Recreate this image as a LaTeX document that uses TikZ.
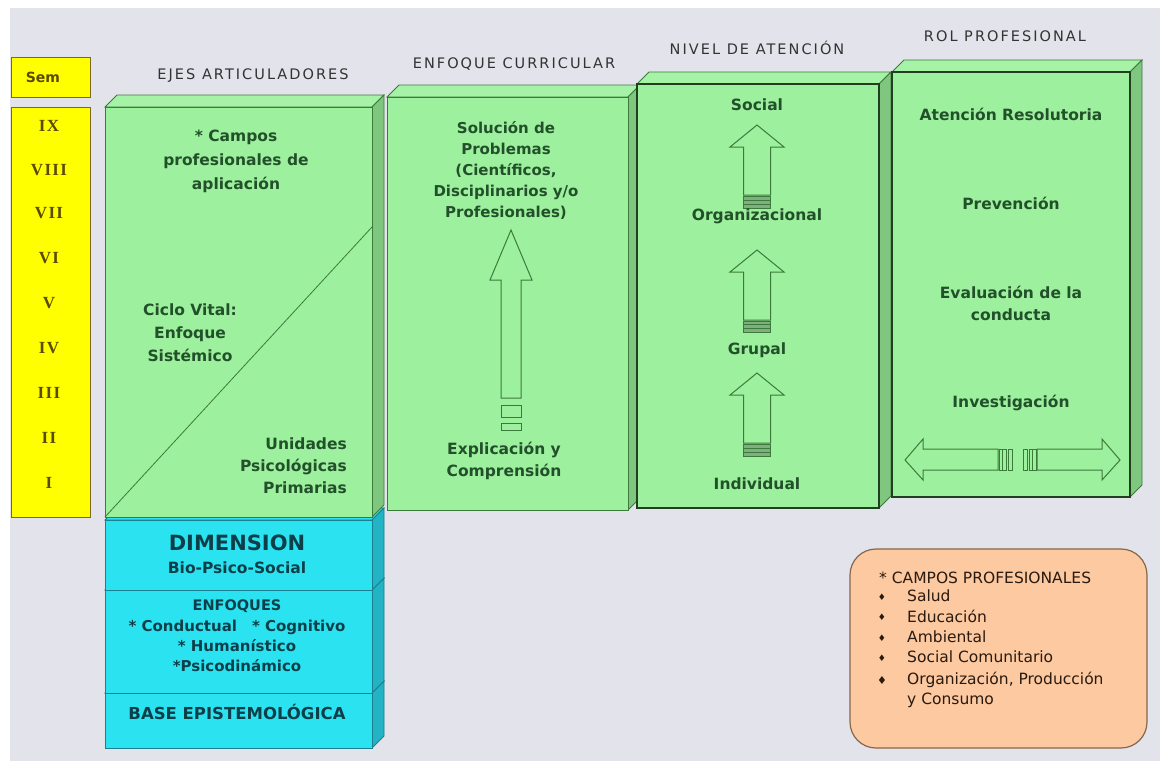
\documentclass[tikz,border=0pt]{standalone}
\usepackage{fontspec}
\setmainfont{DejaVu Sans}
\newfontfamily\titlefont[LetterSpace=14]{DejaVu Sans}
\newfontfamily\romfont[LetterSpace=8]{Liberation Serif}
\usetikzlibrary{calc}
\definecolor{bggray}{HTML}{E3E3EB}
\definecolor{gfront}{HTML}{9DF09D}
\definecolor{gtop}{HTML}{A6F2A6}
\definecolor{gside}{HTML}{7FC77F}
\definecolor{gborder}{HTML}{3C7A3C}
\definecolor{gdark}{HTML}{1F3F1F}
\definecolor{gtext}{HTML}{22502A}
\definecolor{cfront}{HTML}{2BE3F0}
\definecolor{cside}{HTML}{22B3C4}
\definecolor{cborder}{HTML}{1A7F8F}
\definecolor{ctext}{HTML}{0D3F4A}
\definecolor{yfill}{HTML}{FFFF00}
\definecolor{yborder}{HTML}{7A6A1A}
\definecolor{ytext}{HTML}{5A4A00}
\definecolor{ofill}{HTML}{FCC9A0}
\definecolor{oborder}{HTML}{8A6648}
\definecolor{otext}{HTML}{2A1A10}
\definecolor{ttext}{HTML}{333333}
\definecolor{barfill}{HTML}{7FAF7F}
\newcommand{\cubeshape}[7]{%
  \path[#7] (#1,#2) -- ++(12,-12) -- ($(#3,#2)+(12,-12)$) -- (#3,#2) -- cycle;
  \path[#6] (#3,#2) -- ++(12,-12) -- ($(#3,#4)+(12,-12)$) -- (#3,#4) -- cycle;
  \path[#5] (#1,#2) rectangle (#3,#4);
}
\newcommand{\hollowup}[6]{%
  \draw[arrowline] (#1,#2) -- ({#1+#5},#3) -- ({#1+#6},#3) -- ({#1+#6},#4) -- ({#1-#6},#4) -- ({#1-#6},#3) -- ({#1-#5},#3) -- cycle;
}
\newcommand{\stripebar}[4]{% cx halfwidth top bottom
  \draw[arrowline,fill=barfill] ({#1-#2},#3) rectangle ({#1+#2},#4);
  \draw[arrowline] ({#1-#2},{#3+(#4-#3)/3}) -- ({#1+#2},{#3+(#4-#3)/3});
  \draw[arrowline] ({#1-#2},{#3+2*(#4-#3)/3}) -- ({#1+#2},{#3+2*(#4-#3)/3});
}
\tikzset{
  gfrontst/.style={fill=gfront,draw=gborder,line width=1pt},
  gfrontdk/.style={fill=gfront,draw=gdark,line width=1.6pt},
  gsidest/.style={fill=gside,draw=gborder,line width=0.8pt},
  gtopst/.style={fill=gtop,draw=gborder,line width=0.8pt},
  cfrontst/.style={fill=cfront,draw=cborder,line width=1pt},
  csidest/.style={fill=cside,draw=cborder,line width=0.8pt},
  ctopst/.style={fill=cfront,draw=cborder,line width=0.8pt},
  arrowline/.style={draw=gborder,line width=1pt},
  gtxt/.style={text=gtext,font=\bfseries\fontsize{15.5}{22}\selectfont,align=center,inner sep=0pt},
  ttl/.style={text=ttext,font=\titlefont\fontsize{14.5}{16}\selectfont,inner sep=0pt},
  ctxt/.style={text=ctext,align=center,inner sep=0pt},
  rom/.style={text=ytext,font=\romfont\bfseries\fontsize{17}{18}\selectfont,inner sep=0pt},
  otxt/.style={text=otext,font=\fontsize{15.5}{20.5}\selectfont,anchor=west,inner sep=0pt},
  obul/.style={text=otext,font=\fontsize{9}{10}\selectfont,inner sep=0pt}
}
\begin{document}
\begin{tikzpicture}[x=1pt,y=-1pt]
\useasboundingbox (0,0) rectangle (1166,761);
\fill[white] (0,0) rectangle (1166,761);
\fill[bggray] (10,8) rectangle (1160,761);

% semester column
\draw[fill=yfill,draw=yborder,line width=1pt] (11,57) rectangle (90,97);
\node[text=ytext,font=\bfseries\fontsize{14}{16}\selectfont,inner sep=0pt] (sem) at (43,77) {Sem};
\draw[fill=yfill,draw=yborder,line width=1pt] (11,107) rectangle (90,517);
\node[rom] (r9) at (49,126) {IX};
\node[rom] (r8) at (49,170) {VIII};
\node[rom] (r7) at (49,213) {VII};
\node[rom] (r6) at (49,258) {VI};
\node[rom] (r5) at (49,303) {V};
\node[rom] (r4) at (49,348) {IV};
\node[rom] (r3) at (49,393) {III};
\node[rom] (r2) at (49,438) {II};
\node[rom] (r1) at (49,483) {I};

% cyan cubes (bottom first)
\cubeshape{105}{693}{372}{748}{cfrontst}{csidest}{ctopst}
\cubeshape{105}{590}{372}{693}{cfrontst}{csidest}{ctopst}
\cubeshape{105}{520}{372}{590}{cfrontst}{csidest}{ctopst}

% green cubes
\cubeshape{105}{107}{372}{517}{gfrontst}{gsidest}{gtopst}
\cubeshape{387}{97}{628}{510}{gfrontst}{gsidest}{gtopst}
\cubeshape{637}{84}{879}{508}{gfrontdk}{gsidest}{gtopst}
\cubeshape{892}{72}{1130}{497}{gfrontdk}{gsidest}{gtopst}

% titles
\node[ttl] (t1) at (253,76) {EJES ARTICULADORES};
\node[ttl] (t2) at (514,64) {ENFOQUE CURRICULAR};
\node[ttl] (t3) at (757,48) {NIVEL DE ATENCIÓN};
\node[ttl] (t4) at (1005,36) {ROL PROFESIONAL};

% EJES
\draw[gborder,line width=0.8pt] (105,517) -- (372,227);
\node[gtxt,font=\bfseries\fontsize{15.5}{24}\selectfont] (campos) at (236,161) {* Campos\\profesionales de\\aplicación};
\node[gtxt,font=\bfseries\fontsize{15.5}{23}\selectfont] (ciclo) at (190,333) {Ciclo Vital:\\Enfoque\\Sistémico};
\node[gtxt,align=right,anchor=east] (unid) at (347,466) {Unidades\\Psicológicas\\Primarias};

% ENFOQUE CURRICULAR
\node[gtxt,font=\bfseries\fontsize{15}{21}\selectfont] (sol) at (506,170) {Solución de\\Problemas\\(Científicos,\\Disciplinarios y/o\\Profesionales)};
\hollowup{511}{230}{280}{398}{21}{10}
\draw[arrowline] (501,405) rectangle (521,417);
\draw[arrowline] (501,423) rectangle (521,430);
\node[gtxt] (expl) at (504,461) {Explicación y\\Comprensión};

% NIVEL DE ATENCION
\node[gtxt] (social) at (757,105) {Social};
\hollowup{757}{125}{147}{195}{27}{13.5}
\stripebar{757}{13.5}{196}{208}
\node[gtxt] (org) at (757,216) {Organizacional};
\hollowup{757}{250}{272}{320}{27}{13.5}
\stripebar{757}{13.5}{321}{332}
\node[gtxt] (grupal) at (757,350) {Grupal};
\hollowup{757}{373}{395}{443}{27}{13.5}
\stripebar{757}{13.5}{444}{456}
\node[gtxt] (indiv) at (757,484) {Individual};

% ROL PROFESIONAL
\node[gtxt] (aten) at (1011,114) {Atención Resolutoria};
\node[gtxt] (prev) at (1011,203) {Prevención};
\node[gtxt] (eval) at (1011,303) {Evaluación de la\\conducta};
\node[gtxt] (inv) at (1011,403) {Investigación};
\draw[arrowline] (905,460) -- (923,439) -- (923,449) -- (998,449) -- (998,470) -- (923,470) -- (923,480) -- cycle;
\draw[arrowline] (999,449) rectangle (1006,470);
\draw[arrowline] (1002.5,449) -- (1002.5,470);
\draw[arrowline] (1008,449) rectangle (1012,470);
\draw[arrowline] (1023,449) rectangle (1027,470);
\draw[arrowline] (1029,449) rectangle (1036,470);
\draw[arrowline] (1032.5,449) -- (1032.5,470);
\draw[arrowline] (1120,460) -- (1102,439) -- (1102,449) -- (1037,449) -- (1037,470) -- (1102,470) -- (1102,480) -- cycle;

% cyan texts
\node[ctxt,font=\bfseries\fontsize{21}{24}\selectfont] (dim) at (237,543) {DIMENSION};
\node[ctxt,font=\bfseries\fontsize{15.5}{18}\selectfont] (bio) at (237,568) {Bio-Psico-Social};
\node[ctxt,font=\bfseries\fontsize{14.5}{16}\selectfont] (enf) at (237,606) {ENFOQUES};
\node[ctxt,font=\bfseries\fontsize{15}{20}\selectfont] (enfl) at (237,646) {* Conductual\quad * Cognitivo\\* Humanístico\\*Psicodinámico};
\node[ctxt,font=\bfseries\fontsize{16.5}{18}\selectfont] (base) at (237,712) {BASE EPISTEMOLÓGICA};

% campos profesionales box
\draw[fill=ofill,draw=oborder,line width=1.2pt,rounded corners=26pt] (850,549) rectangle (1147,748);
\node[otxt] (ch) at (879,578) {* CAMPOS PROFESIONALES};
\node[obul] (b1) at (882,597) {♦};
\node[otxt] (i1) at (907,596) {Salud};
\node[obul] (b2) at (882,617) {♦};
\node[otxt] (i2) at (907,616) {Educación};
\node[obul] (b3) at (882,638) {♦};
\node[otxt] (i3) at (907,637) {Ambiental};
\node[obul] (b4) at (882,658) {♦};
\node[otxt] (i4) at (907,657) {Social Comunitario};
\node[obul,font=\fontsize{11}{12}\selectfont] (b5) at (882,680) {♦};
\node[otxt,anchor=west,align=left] (i5) at (907,690) {Organización, Producción\\y Consumo};
\end{tikzpicture}
\end{document}
